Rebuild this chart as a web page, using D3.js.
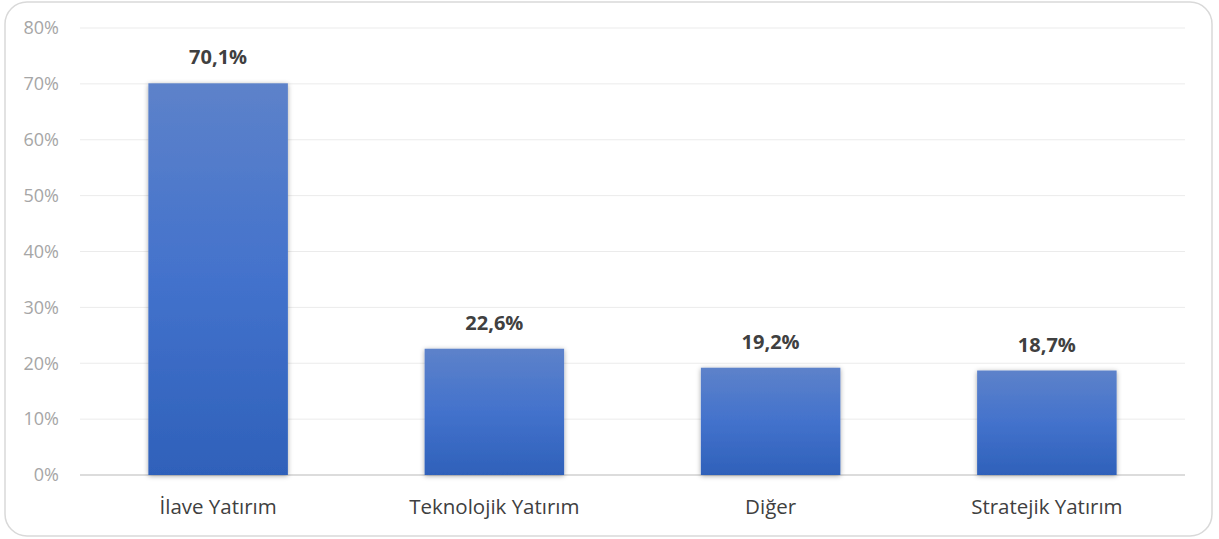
<!DOCTYPE html>
<html lang="tr">
<head>
<meta charset="UTF-8">
<title>Yatırım Türleri</title>
<style>
    body { margin: 0; padding: 0; background: #fff; font-family: "Open Sans", Arial, sans-serif; }
</style>
</head>
<body>
<svg id="chart"></svg>
<script src="https://d3js.org/d3.v7.min.js"></script>
<script>
    // data
    const categories = ["İlave Yatırım", "Teknolojik Yatırım", "Diğer", "Stratejik Yatırım"];
    const values = [70.1, 22.6, 19.2, 18.7];
    const yTicks = [0, 10, 20, 30, 40, 50, 60, 70, 80];

    const width = 1219, height = 539;
    const margin = { top: 28, right: 34, bottom: 64, left: 80 };

    const svg = d3.select("#chart").attr("width", width).attr("height", height);

    // outer rounded frame
    svg.append("rect")
        .attr("x", 5).attr("y", 2)
        .attr("width", 1207).attr("height", 534)
        .attr("rx", 22).attr("ry", 22)
        .attr("fill", "#fff")
        .attr("stroke", "#d9d9d9")
        .attr("stroke-width", 1.5);

    const defs = svg.append("defs");
    const grad = defs.append("linearGradient")
        .attr("id", "barGrad")
        .attr("x1", 0).attr("y1", 0).attr("x2", 0).attr("y2", 1);
    grad.append("stop").attr("offset", "0%").attr("stop-color", "#5d82ca");
    grad.append("stop").attr("offset", "50%").attr("stop-color", "#4372cc");
    grad.append("stop").attr("offset", "100%").attr("stop-color", "#2f61ba");

    const shadow = defs.append("filter").attr("id", "shadow")
        .attr("x", "-10%").attr("y", "-10%").attr("width", "120%").attr("height", "120%");
    shadow.append("feDropShadow")
        .attr("dx", 0).attr("dy", 1).attr("stdDeviation", 2.5)
        .attr("flood-color", "#000").attr("flood-opacity", 0.35);

    const x = d3.scaleBand()
        .domain(categories)
        .range([margin.left, width - margin.right])
        .paddingInner(0.495)
        .paddingOuter(0.2475);

    const y = d3.scaleLinear()
        .domain([0, 80])
        .range([height - margin.bottom, margin.top]);

    // gridlines
    svg.append("g")
        .selectAll("line")
        .data(yTicks)
        .join("line")
        .attr("x1", margin.left)
        .attr("x2", width - margin.right)
        .attr("y1", d => y(d))
        .attr("y2", d => y(d))
        .attr("stroke", d => d === 0 ? "#d0d0d0" : "#ebebeb")
        .attr("stroke-width", d => d === 0 ? 1.5 : 1);

    // y tick labels
    svg.append("g")
        .selectAll("text")
        .data(yTicks)
        .join("text")
        .attr("x", 59)
        .attr("y", d => y(d))
        .attr("dy", "0.35em")
        .attr("text-anchor", "end")
        .attr("fill", "#a6a6a6")
        .attr("font-size", 18)
        .text(d => d + "%");

    // bars
    svg.append("g")
        .selectAll("rect")
        .data(values)
        .join("rect")
        .attr("x", (d, i) => x(categories[i]))
        .attr("y", d => y(d))
        .attr("width", x.bandwidth())
        .attr("height", d => y(0) - y(d))
        .attr("fill", "url(#barGrad)")
        .attr("filter", "url(#shadow)");

    // value labels
    svg.append("g")
        .selectAll("text")
        .data(values)
        .join("text")
        .attr("x", (d, i) => x(categories[i]) + x.bandwidth() / 2)
        .attr("y", d => y(d) - 19)
        .attr("text-anchor", "middle")
        .attr("fill", "#404040")
        .attr("font-size", 20)
        .attr("font-weight", "bold")
        .text(d => d.toFixed(1).replace(".", ",") + "%");

    // category labels
    svg.append("g")
        .selectAll("text")
        .data(categories)
        .join("text")
        .attr("x", d => x(d) + x.bandwidth() / 2)
        .attr("y", 514)
        .attr("text-anchor", "middle")
        .attr("fill", "#404040")
        .attr("font-size", 20.5)
        .text(d => d);
</script>
</body>
</html>
